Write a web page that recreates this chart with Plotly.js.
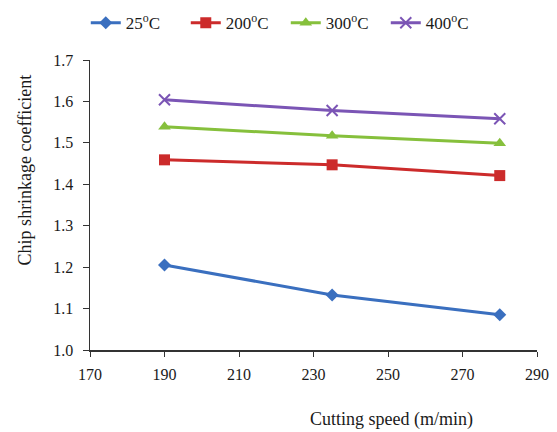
<!DOCTYPE html>
<html>
<head>
<meta charset="utf-8">
<script src="https://cdn.plot.ly/plotly-3.0.1.min.js"></script>
<style>html,body{margin:0;padding:0;background:#fff;}#chart{width:557px;height:432px;}</style>
</head>
<body>
<div id="chart"></div>
<script>
var speeds = [190, 235, 280];
var seriesNames = ["25<sup>o</sup>C", "200<sup>o</sup>C", "300<sup>o</sup>C", "400<sup>o</sup>C"];
var t25 = [1.205, 1.133, 1.085];
var t200 = [1.459, 1.447, 1.421];
var t300 = [1.539, 1.517, 1.499];
var t400 = [1.604, 1.578, 1.558];
var xTicks = [170, 190, 210, 230, 250, 270, 290];
var yTicks = [1.0, 1.1, 1.2, 1.3, 1.4, 1.5, 1.6, 1.7];
var yTickText = ["1.0", "1.1", "1.2", "1.3", "1.4", "1.5", "1.6", "1.7"];

var colors = ["#3a6fbf", "#cc2b2b", "#86c03c", "#7b55b5"];
var symbols = ["diamond", "square", "triangle-up", "x-thin-open"];
var sizes = [10, 11, 11, 11];
var allY = [t25, t200, t300, t400];

var traces = allY.map(function (ys, i) {
  return {
    x: speeds, y: ys, name: seriesNames[i], type: "scatter", mode: "lines+markers",
    line: {color: colors[i], width: 3},
    marker: {symbol: symbols[i], size: sizes[i], color: colors[i], line: {color: colors[i], width: i === 3 ? 2 : 0}}
  };
});

var fam = "Liberation Serif, Times New Roman, serif";
var txt = "#1a1a1a";

var layout = {
  width: 557, height: 432,
  margin: {l: 90, r: 20, t: 60, b: 82, autoexpand: false},
  paper_bgcolor: "#fff", plot_bgcolor: "#fff",
  font: {family: fam, size: 16, color: txt},
  showlegend: true,
  legend: {orientation: "h", xref: "container", x: 0.154, xanchor: "left", y: 0.988, yref: "container", yanchor: "top",
           font: {family: fam, size: 17, color: txt}, entrywidth: 55, entrywidthmode: "pixels"},
  xaxis: {range: [170, 290], tickvals: xTicks, ticks: "outside", ticklen: 5, tickcolor: "#333",
          showline: true, linecolor: "#333", linewidth: 1.5, showgrid: false, zeroline: false,
          ticklabelstandoff: 4,
          tickfont: {family: fam, size: 16, color: txt}},
  yaxis: {range: [1.0, 1.7], tickvals: yTicks, ticktext: yTickText, ticks: "outside", ticklen: 6, tickcolor: "#333",
          showline: true, linecolor: "#333", linewidth: 1.5, showgrid: false, zeroline: false,
          ticklabelstandoff: 6,
          tickfont: {family: fam, size: 16, color: txt}},
  annotations: [
    {text: "Cutting speed (m/min)", xref: "paper", yref: "paper", x: 0.675, y: -0.195, xanchor: "center", yanchor: "top",
     showarrow: false, font: {family: fam, size: 18, color: txt}},
    {text: "Chip shrinkage coefficient", xref: "paper", yref: "paper", x: -0.145, y: 0.62, xanchor: "center", yanchor: "middle",
     textangle: -90, showarrow: false, font: {family: fam, size: 18, color: txt}}
  ]
};

Plotly.newPlot("chart", traces, layout, {displayModeBar: false, staticPlot: true});
</script>
</body>
</html>
